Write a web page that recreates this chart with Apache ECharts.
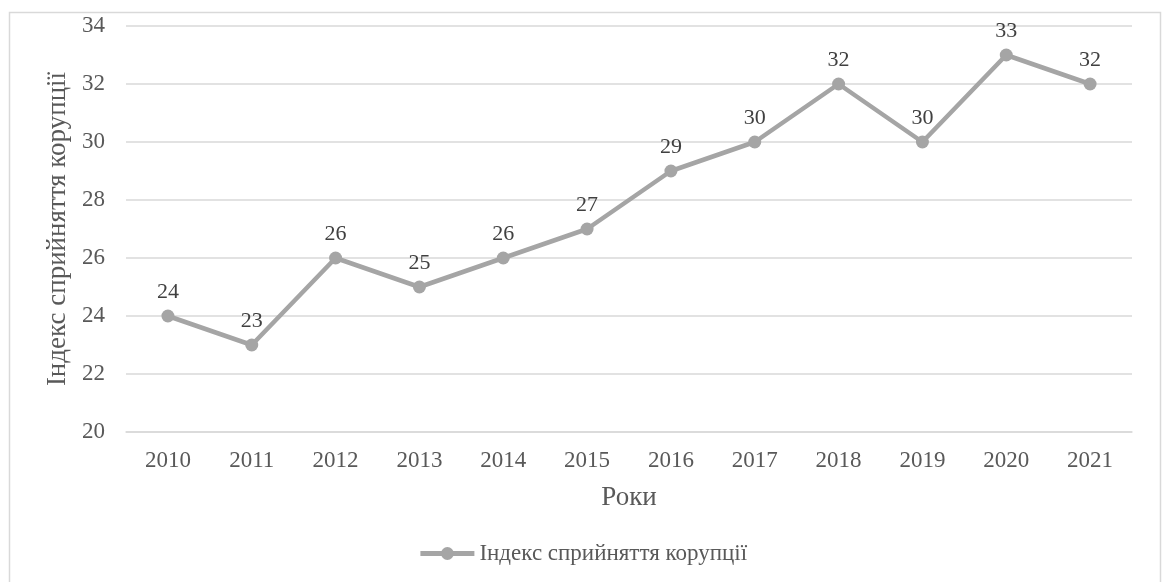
<!DOCTYPE html>
<html><head><meta charset="utf-8">
<script src="https://cdn.jsdelivr.net/npm/echarts@6/dist/echarts.min.js"></script>
<style>html,body{margin:0;padding:0;background:#fff}#c{width:1165px;height:582px}</style>
</head><body><div id="c"></div>
<script>
const years = ['2010','2011','2012','2013','2014','2015','2016','2017','2018','2019','2020','2021'];
const values = [24,23,26,25,26,27,29,30,32,30,33,32];
const seriesName = 'Індекс сприйняття корупції';
const yTitle = 'Індекс сприйняття корупції';
const xTitle = 'Роки';
const font = '"Liberation Serif","Times New Roman",serif';
const chart = echarts.init(document.getElementById('c'));
chart.setOption({
  animation:false,
  textStyle:{fontFamily:font},
  graphic:[{type:'rect',shape:{x:9.5,y:12.5,width:1151,height:600},style:{fill:null,stroke:'#d9d9d9',lineWidth:1.5},silent:true}],
  grid:{left:126,right:33,top:26,bottom:150},
  legend:{top:537,left:'center',itemWidth:54,itemHeight:16,itemGap:4,
    lineStyle:{width:5,color:'#a5a5a5'},
    textStyle:{fontFamily:font,fontSize:23,color:'#595959'},
    data:[{name:seriesName}]},
  xAxis:{type:'category',data:years,boundaryGap:true,
    axisLine:{show:true,lineStyle:{color:'#d9d9d9',width:1.5}},axisTick:{show:false},
    axisLabel:{fontFamily:font,fontSize:23,color:'#595959',margin:17},
    name:xTitle,nameLocation:'middle',nameGap:52,
    nameTextStyle:{fontFamily:font,fontSize:27,color:'#595959'}},
  yAxis:{type:'value',min:20,max:34,interval:2,
    axisLine:{show:false},axisTick:{show:false},
    splitLine:{lineStyle:{color:'#d9d9d9',width:1.5}},
    axisLabel:{fontFamily:font,fontSize:23,color:'#595959',margin:21},
    name:yTitle,nameLocation:'middle',nameGap:49,nameRotate:90,
    nameTextStyle:{fontFamily:font,fontSize:27,color:'#595959'}},
  series:[{name:seriesName,type:'line',data:values,
    lineStyle:{color:'#a5a5a5',width:4.5},itemStyle:{color:'#a5a5a5'},
    symbol:'circle',symbolSize:13,
    label:{show:true,position:'top',distance:6,fontFamily:font,fontSize:22,color:'#404040'}}]
});
</script></body></html>
